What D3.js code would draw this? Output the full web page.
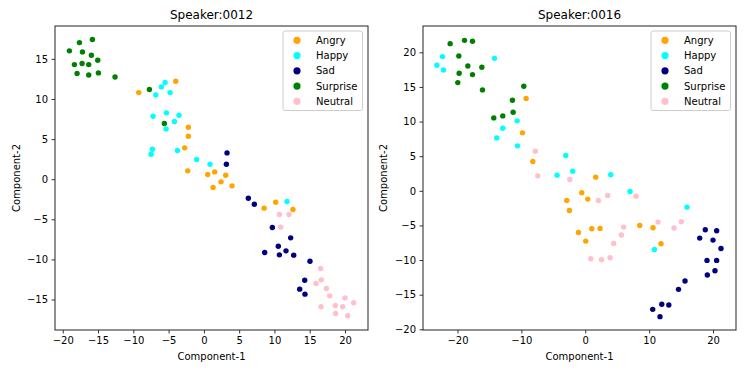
<!DOCTYPE html>
<html>
<head>
<meta charset="utf-8">
<script src="https://cdn.jsdelivr.net/npm/d3@7"></script>
<style>
  html, body { margin: 0; padding: 0; background: #fff; }
  svg text { font-family: "DejaVu Sans", sans-serif; fill: #000; }
</style>
</head>
<body>
<svg id="chart" width="747" height="374"></svg>
<script>
const emotions = ["Angry", "Happy", "Sad", "Surprise", "Neutral"];
const colors = ["#FFA500", "#00FFFF", "#000080", "#008000", "#FFC0CB"];

// Speaker 0012
const s12_angry = [[-9.23,10.80],[-3.99,12.21],[-2.2,6.48],[-2.2,5.36],[-2.72,3.91],[-2.29,1.04],[0.54,0.58],[1.53,0.91],[3.1,0.5],[2.43,-0.33],[1.3,-1.04],[3.99,-0.83],[8.53,-3.61],[10.18,-2.87],[12.63,-3.78]];
const s12_happy = [[-5.5,12.05],[-6.02,11.51],[-6.82,10.51],[-4.79,10.80],[-7.2,7.85],[-5.31,8.27],[-3.52,7.98],[-4.18,7.19],[-5.36,6.27],[-7.3,3.74],[-7.49,3.12],[-3.75,3.57],[-1.02,2.45],[0.87,1.87],[11.78,-2.78]];
const s12_sad = [[3.28,3.28],[3.19,1.87],[6.3,-2.37],[7.15,-3.12],[9.7,-6.02],[12.3,-7.31],[10.55,-8.35],[11.64,-8.93],[8.62,-9.14],[10.7,-9.43],[12.73,-9.47],[15.04,-10.22],[14.29,-12.59],[13.58,-13.71],[14.33,-14.33]];
const s12_surprise = [[-19.06,16.0],[-17.64,17.03],[-15.80,17.41],[-17.21,15.87],[-15.94,15.45],[-15.04,14.83],[-18.35,14.29],[-17.26,14.42],[-16.32,14.29],[-17.97,13.17],[-16.32,13.0],[-14.95,13.25],[-12.59,12.75],[-7.72,11.18],[-5.6,6.94]];
const s12_neutral = [[10.7,-4.40],[12.07,-4.40],[10.89,-5.98],[16.55,-11.13],[16.65,-12.55],[15.89,-13.0],[17.36,-13.63],[17.83,-14.54],[20.0,-14.79],[21.23,-15.41],[18.63,-15.75],[19.67,-15.91],[16.6,-15.91],[18.68,-16.74],[20.38,-17.03]];

// Speaker 0016
const s16_angry = [[-9.26,13.32],[-9.83,8.37],[-8.21,4.23],[1.64,1.97],[-0.55,-0.29],[0.39,-1.2],[-2.89,-1.39],[-2.48,-2.84],[-1.07,-6.01],[1.02,-5.48],[2.32,-5.43],[0.08,-7.26],[8.53,-5.0],[10.61,-5.34],[11.86,-7.64]];
const s16_happy = [[-22.35,19.38],[-23.23,18.13],[-22.2,17.45],[-14.21,19.13],[-10.66,10.1],[-12.91,9.04],[-13.85,7.64],[-10.61,6.49],[-3.05,5.1],[-1.96,2.84],[-4.41,2.26],[3.99,2.31],[7.01,-0.1],[15.93,-2.36],[10.82,-8.46]];
const s16_sad = [[18.79,-5.63],[20.57,-5.77],[17.92,-6.83],[20.0,-7.12],[21.25,-8.32],[19.06,-10.05],[20.57,-10.05],[19.11,-12.16],[20.31,-11.54],[15.62,-13.03],[14.6,-14.23],[11.98,-16.39],[13.08,-16.49],[10.56,-17.12],[11.7,-18.17]];
const s16_surprise = [[-21.15,21.25],[-18.9,21.73],[-17.65,21.59],[-19.79,19.47],[-18.38,18.03],[-16.19,17.84],[-19.74,16.97],[-17.65,16.78],[-19.95,15.63],[-16.09,14.57],[-9.62,15.1],[-11.4,13.08],[-11.29,11.35],[-12.91,10.82],[-14.32,10.53]];
const s16_neutral = [[-7.8,5.72],[-7.43,2.16],[-2.42,1.63],[2.06,-1.39],[3.52,-0.67],[7.95,-0.77],[11.39,-4.52],[15.04,-4.47],[13.9,-5.38],[6.02,-5.24],[5.65,-6.39],[4.45,-7.6],[3.89,-9.66],[2.53,-9.95],[0.86,-9.81]];

const xTicks12 = [-20,-15,-10,-5,0,5,10,15,20];
const yTicks12 = [-15,-10,-5,0,5,10,15];
const xTicks16 = [-20,-10,0,10,20];
const yTicks16 = [-20,-15,-10,-5,0,5,10,15,20];

const panels = [
  { title: "Speaker:0012", series: [s12_angry, s12_happy, s12_sad, s12_surprise, s12_neutral],
    xDom: [-21.1, 23.26], yDom: [-18.8, 19.1], xTicks: xTicks12, yTicks: yTicks12,
    box: { l: 55, r: 368, t: 26, b: 330 }, ylabX: 16 },
  { title: "Speaker:0016", series: [s16_angry, s16_happy, s16_sad, s16_surprise, s16_neutral],
    xDom: [-25.4, 23.6], yDom: [-20.1, 23.8], xTicks: xTicks16, yTicks: yTicks16,
    box: { l: 423, r: 736, t: 26, b: 330 }, ylabX: 383 }
];

const svg = d3.select("#chart");
const fmt = v => (v < 0 ? "\u2212" + Math.abs(v) : String(v));

panels.forEach(p => {
  const g = svg.append("g");
  const x = d3.scaleLinear().domain(p.xDom).range([p.box.l, p.box.r]);
  const y = d3.scaleLinear().domain(p.yDom).range([p.box.b, p.box.t]);

  // points
  p.series.forEach((pts, i) => {
    g.append("g").selectAll("circle").data(pts).enter().append("circle")
      .attr("cx", d => x(d[0])).attr("cy", d => y(d[1]))
      .attr("r", 2.7).attr("fill", colors[i]);
  });

  // axes
  const xa = g.append("g").attr("transform", `translate(0,${p.box.b})`)
    .call(d3.axisBottom(x).tickValues(p.xTicks).tickFormat(fmt).tickSize(3.5).tickPadding(3.5));
  const ya = g.append("g").attr("transform", `translate(${p.box.l},0)`)
    .call(d3.axisLeft(y).tickValues(p.yTicks).tickFormat(fmt).tickSize(3.5).tickPadding(3.5));
  [xa, ya].forEach(a => {
    a.select(".domain").remove();
    a.selectAll("text").style("font-family", "DejaVu Sans").style("font-size", "10px").attr("fill", "#000");
    a.selectAll("line").attr("stroke", "#000").attr("stroke-width", 0.8);
  });

  // frame
  g.append("rect").attr("x", p.box.l).attr("y", p.box.t)
    .attr("width", p.box.r - p.box.l).attr("height", p.box.b - p.box.t)
    .attr("fill", "none").attr("stroke", "#222").attr("stroke-width", 1);

  // title
  g.append("text").attr("x", (p.box.l + p.box.r) / 2).attr("y", 19)
    .attr("text-anchor", "middle").style("font-size", "12px").text(p.title);

  // axis labels
  g.append("text").attr("x", (p.box.l + p.box.r) / 2).attr("y", 360)
    .attr("text-anchor", "middle").style("font-size", "10px").text("Component-1");
  g.append("text").attr("transform", `translate(${p.ylabX + 4},${(p.box.t + p.box.b) / 2}) rotate(-90)`)
    .attr("text-anchor", "middle").style("font-size", "10px").text("Component-2");

  // legend
  const lx = p.box.r - 85, ly = p.box.t + 5;
  g.append("rect").attr("x", lx).attr("y", ly).attr("width", 79.5).attr("height", 79.5)
    .attr("rx", 2).attr("fill", "#fff").attr("fill-opacity", 0.8)
    .attr("stroke", "#ccc").attr("stroke-width", 1);
  emotions.forEach((e, i) => {
    const cy = ly + 9.3 + i * 15.25;
    g.append("circle").attr("cx", lx + 14).attr("cy", cy).attr("r", 3.6).attr("fill", colors[i]);
    g.append("text").attr("x", lx + 33).attr("y", cy + 3.6).style("font-size", "10px").text(e);
  });
});
</script>
</body>
</html>
